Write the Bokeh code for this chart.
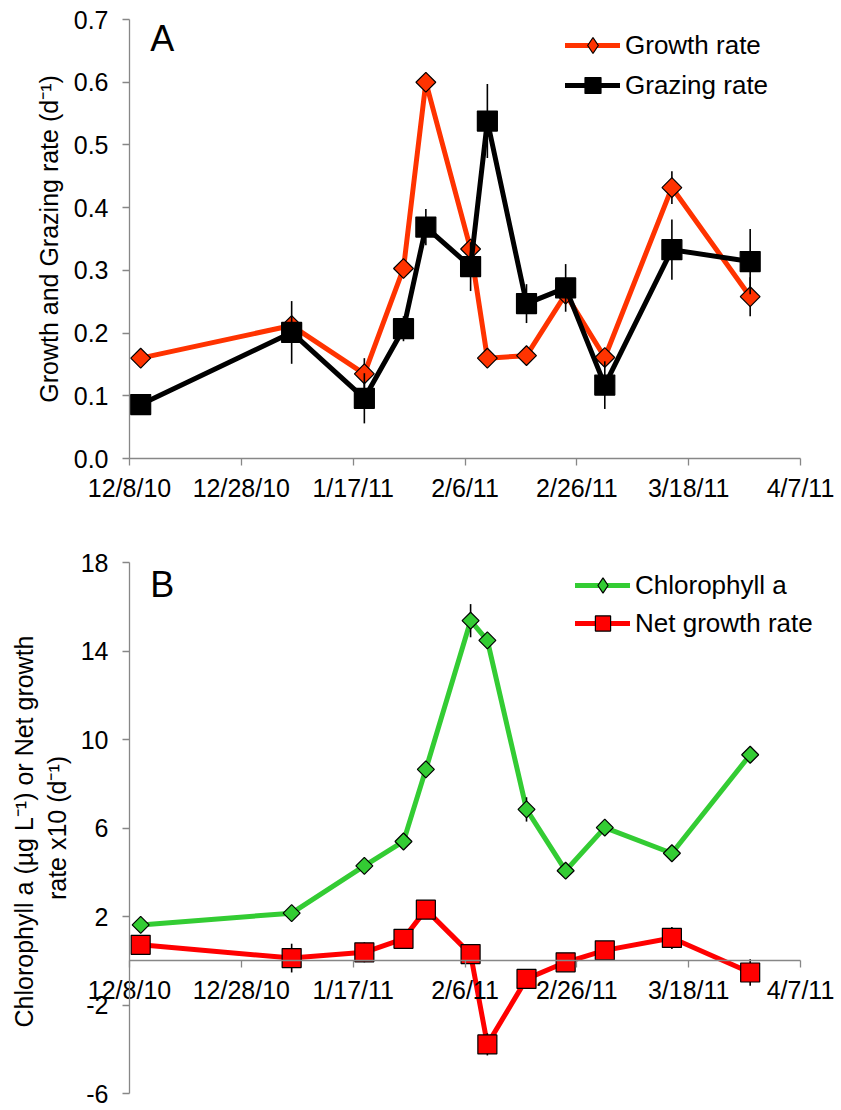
import pandas as pd
from bokeh.plotting import figure
from bokeh.layouts import column
from bokeh.models import FixedTicker, Legend, LegendItem, Label, Range1d
from bokeh.embed import file_html
from bokeh.resources import INLINE

# ---- data -------------------------------------------------------------
start_date = "2010-12-08"
sample_dates = ["2010-12-10", "2011-01-06", "2011-01-19", "2011-01-26",
                "2011-01-30", "2011-02-07", "2011-02-10", "2011-02-17",
                "2011-02-24", "2011-03-03", "2011-03-15", "2011-03-29"]

growth_rate = [0.160, 0.212, 0.135, 0.303, 0.600, 0.334, 0.160, 0.164,
               0.262, 0.161, 0.432, 0.258]
growth_err = [0.008, 0.010, 0.025, 0.010, 0.010, 0.015, 0.008, 0.008,
              0.015, 0.010, 0.026, 0.031]

grazing_rate = [0.086, 0.201, 0.096, 0.207, 0.369, 0.306, 0.538, 0.247,
                0.272, 0.117, 0.333, 0.314]
grazing_err = [0.010, 0.050, 0.040, 0.020, 0.029, 0.039, 0.059, 0.031,
               0.038, 0.038, 0.048, 0.052]

chl_a = [1.62, 2.15, 4.29, 5.39, 8.65, 15.37, 14.48, 6.84, 4.07, 6.02,
         4.86, 9.31]
chl_err = [0.1, 0.1, 0.1, 0.1, 0.1, 0.75, 0.15, 0.55, 0.1, 0.1, 0.1, 0.1]

net_growth_x10 = [0.72, 0.12, 0.38, 0.99, 2.31, 0.30, -3.78, -0.82, -0.07,
                  0.47, 1.03, -0.53]
net_err = [0.1, 0.65, 0.45, 0.1, 0.1, 0.3, 0.5, 0.1, 0.1, 0.1, 0.5, 0.6]

date_ticks = ["12/8/10", "12/28/10", "1/17/11", "2/6/11", "2/26/11",
              "3/18/11", "4/7/11"]
rate_ticks = [0.0, 0.1, 0.2, 0.3, 0.4, 0.5, 0.6, 0.7]
rate_tick_labels = ["0.0", "0.1", "0.2", "0.3", "0.4", "0.5", "0.6", "0.7"]
chl_ticks = [-6, -2, 2, 6, 10, 14, 18]
chl_tick_labels = ["-6", "-2", "2", "6", "10", "14", "18"]

# ---- helpers ----------------------------------------------------------
t0 = pd.Timestamp(start_date)
x_days = [(pd.Timestamp(d) - t0).days for d in sample_dates]
tick_days = [(pd.to_datetime(t, format="%m/%d/%y") - t0).days for t in date_ticks]
x_lo, x_hi = tick_days[0], tick_days[-1]

FONT = "Liberation Sans"
AXIS_GRAY = "#878787"
DIAMOND_ANGLE = 0.7853981634
NAN = float("nan")

# page geometry (pixels); each panel's frame covers the whole panel and the
# axes are pinned to the data, so nothing near the plot edges gets clipped
W = 841
PLOT_LEFT, PLOT_RIGHT = 129, 800
A_HEIGHT = 506
A_TOP, A_BOTTOM = 19, 458
B_HEIGHT = 1110 - A_HEIGHT
B_TOP, B_BOTTOM = 562 - A_HEIGHT, 1093 - A_HEIGHT

px_day = (PLOT_RIGHT - PLOT_LEFT) / (x_hi - x_lo)
x_view = (x_lo - PLOT_LEFT / px_day, x_hi + (W - PLOT_RIGHT) / px_day)


def y_view(lo, hi, top, bottom, height):
    per = (bottom - top) / (hi - lo)
    return lo - (height - bottom) / per, hi + top / per


def style_axis(ax):
    ax.axis_line_color = AXIS_GRAY
    ax.axis_line_width = 1.3
    ax.major_tick_line_color = AXIS_GRAY
    ax.major_tick_line_width = 1.3
    ax.major_tick_in = 0
    ax.major_tick_out = 7
    ax.minor_tick_line_color = None
    ax.major_label_text_font = FONT
    ax.major_label_text_font_size = "25px"
    ax.major_label_text_color = "black"


def make_fig(height, yticks, ylabels, top, bottom):
    ylo, yhi = yticks[0], yticks[-1]
    p = figure(width=W, height=height, min_border=0, min_border_left=0,
               min_border_right=0, min_border_top=0, min_border_bottom=0,
               x_range=Range1d(*x_view),
               y_range=Range1d(*y_view(ylo, yhi, top, bottom, height)),
               output_backend="svg", toolbar_location=None)
    p.xgrid.visible = False
    p.ygrid.visible = False
    p.outline_line_color = None
    p.background_fill_color = "white"
    p.border_fill_color = "white"
    xa, ya = p.xaxis[0], p.yaxis[0]
    for ax in (xa, ya):
        style_axis(ax)
    xa.ticker = FixedTicker(ticks=tick_days)
    xa.major_label_overrides = {d: lab for d, lab in zip(tick_days, date_ticks)}
    xa.major_label_standoff = 8
    xa.fixed_location = 0
    xa.bounds = (x_lo, x_hi)
    ya.ticker = FixedTicker(ticks=yticks)
    ya.major_label_overrides = {v: lab for v, lab in zip(yticks, ylabels)}
    ya.major_label_standoff = 14
    ya.fixed_location = x_lo
    ya.bounds = (ylo, yhi)
    return p


def series(p, y, err, color, marker, size, angle, legend_marker):
    ln = p.line(x_days, y, line_color=color, line_width=5,
                line_join="round", line_cap="round")
    lo = [v - e for v, e in zip(y, err)]
    hi = [v + e for v, e in zip(y, err)]
    p.segment(x0=x_days, y0=lo, x1=x_days, y1=hi, line_color="black",
              line_width=1.6)
    p.scatter(x_days, y, marker=marker, size=size, angle=angle,
              fill_color=color, line_color="black", line_width=1.2)
    # swatch marker for the legend (not drawn in the plot area)
    key = p.scatter(x=[NAN], y=[NAN], marker=legend_marker,
                    fill_color=color, line_color="black", line_width=1.2)
    return [ln, key]


def make_legend(items, left, bottom, glyph_h):
    return Legend(items=items, location=(left, bottom), orientation="vertical",
                  glyph_width=55, glyph_height=glyph_h, label_height=20,
                  spacing=0, padding=0, margin=0, label_standoff=5,
                  border_line_color=None, background_fill_alpha=0,
                  label_text_font=FONT, label_text_font_size="26px",
                  label_text_color="black")


def y_title(p, text, x_px, ymid):
    p.add_layout(Label(x=x_lo - (PLOT_LEFT - x_px) / px_day, y=ymid, text=text,
                       angle=1.5707963268, text_align="center",
                       text_baseline="middle", text_font=FONT,
                       text_font_size="25px", text_line_height=1.2,
                       text_color="black"))


# ---- panel A: growth and grazing rates ------------------------------------
pA = make_fig(A_HEIGHT, rate_ticks, rate_tick_labels, A_TOP, A_BOTTOM)

growth_r = series(pA, growth_rate, growth_err, "#FF3300", "square", 14,
                  DIAMOND_ANGLE, "diamond")
grazing_r = series(pA, grazing_rate, grazing_err, "black", "square", 20, 0,
                   "square")

pA.add_layout(make_legend([LegendItem(label="Growth rate", renderers=growth_r),
                           LegendItem(label="Grazing rate", renderers=grazing_r)],
                          565, A_HEIGHT - 105, 40))
pA.add_layout(Label(x=3.7, y=0.67, text="A", text_font=FONT,
                    text_font_size="36px", text_baseline="middle",
                    text_color="black"))
y_title(pA, "Growth and Grazing rate (d\u207b\u00b9)", 48,
        (rate_ticks[0] + rate_ticks[-1]) / 2)

# ---- panel B: chlorophyll and net growth -----------------------------------
pB = make_fig(B_HEIGHT, chl_ticks, chl_tick_labels, B_TOP, B_BOTTOM)

chl_r = series(pB, chl_a, chl_err, "#33CC33", "square", 12, DIAMOND_ANGLE,
               "diamond")
net_r = series(pB, net_growth_x10, net_err, "#FF0000", "square", 19, 0,
               "square")

pB.add_layout(make_legend([LegendItem(label="Chlorophyll a", renderers=chl_r),
                           LegendItem(label="Net growth rate", renderers=net_r)],
                          575, B_HEIGHT - (642 - A_HEIGHT), 38))
pB.add_layout(Label(x=3.7, y=17.0, text="B", text_font=FONT,
                    text_font_size="36px", text_baseline="middle",
                    text_color="black"))
y_title(pB, "Chlorophyll  a (\u00b5g L\u207b\u00b9) or Net growth\nrate x10 (d\u207b\u00b9)",
        40, (chl_ticks[0] + chl_ticks[-1]) / 2)

layout = column(pA, pB, spacing=0)
open("out.html", "w").write(file_html(layout, INLINE))
